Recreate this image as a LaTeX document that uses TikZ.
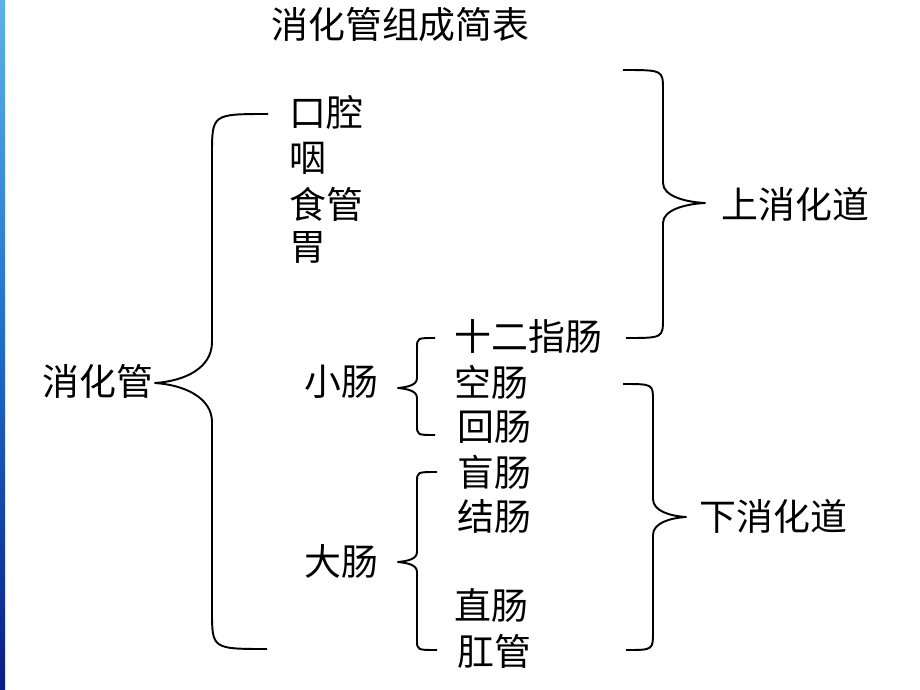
\documentclass[tikz,border=0pt]{standalone}
\usepackage{fontspec}
\newfontfamily\cjk{Noto Sans CJK SC}
\definecolor{stripetop}{HTML}{5AB4E8}
\definecolor{stripemid}{HTML}{1E6CCB}
\definecolor{stripebot}{HTML}{0A1C86}

\begin{document}
\begin{tikzpicture}[x=0.02cm,y=-0.02cm,
  every node/.style={font=\cjk\fontsize{21}{24}\selectfont, inner sep=0pt, anchor=west},
  brc/.style={line width=1.1pt, line join=round}]
\useasboundingbox (0,0) rectangle (920,690);
% blue edge on the left
\shade[top color=stripetop, bottom color=stripebot, middle color=stripemid] (0,0) rectangle (5,690);

% title
\node (title) at (271,25) {消化管组成简表};

% left column
\node (xhg) at (42,381) {消化管};
\node (kq) at (289,112) {口腔};
\node (yan) at (289,158) {咽};
\node (sg) at (289,204) {食管};
\node (wei) at (289,247) {胃};
\node (xc) at (304,382) {小肠};
\node (dc) at (304,561) {大肠};

% middle column
\node (sezc) at (454,336) {十二指肠};
\node (kc) at (454,382) {空肠};
\node (hc) at (457,427) {回肠};
\node (mc) at (457,472) {盲肠};
\node (jc) at (457,516) {结肠};
\node (zc) at (454,605) {直肠};
\node (gg) at (457,651) {肛管};

% right column
\node (sxhd) at (721,204) {上消化道};
\node (xxhd) at (699,516) {下消化道};

% braces
\draw[brc] (268,114) .. controls (212,114) .. (212,155) -- (212,342)
   .. controls (212,368) and (185,381) .. (155,383)
   .. controls (185,385) and (212,398) .. (212,422)
   -- (212,610) .. controls (212,649) .. (267,649);
\draw[brc] (435,338) .. controls (417,338) .. (417,348) -- (417,378)
   .. controls (417,385) and (408,387) .. (398,388)
   .. controls (408,389) and (417,391) .. (417,398)
   -- (417,425) .. controls (417,435) .. (435,435);
\draw[brc] (437,472) .. controls (417,472) .. (417,482) -- (417,552)
   .. controls (417,559) and (408,561) .. (398,562)
   .. controls (408,563) and (417,565) .. (417,572)
   -- (417,640) .. controls (417,650) .. (437,650);
\draw[brc] (623,70) .. controls (663,70) .. (663,90) -- (663,183)
   .. controls (663,196) and (685,202) .. (705,203)
   .. controls (685,204) and (663,210) .. (663,223)
   -- (663,318) .. controls (663,338) .. (626,338);
\draw[brc] (623,384) .. controls (653,384) .. (653,401) -- (653,499)
   .. controls (653,511) and (670,516) .. (686,517)
   .. controls (670,518) and (653,523) .. (653,535)
   -- (653,632) .. controls (653,650) .. (626,650);
\end{tikzpicture}
\end{document}
